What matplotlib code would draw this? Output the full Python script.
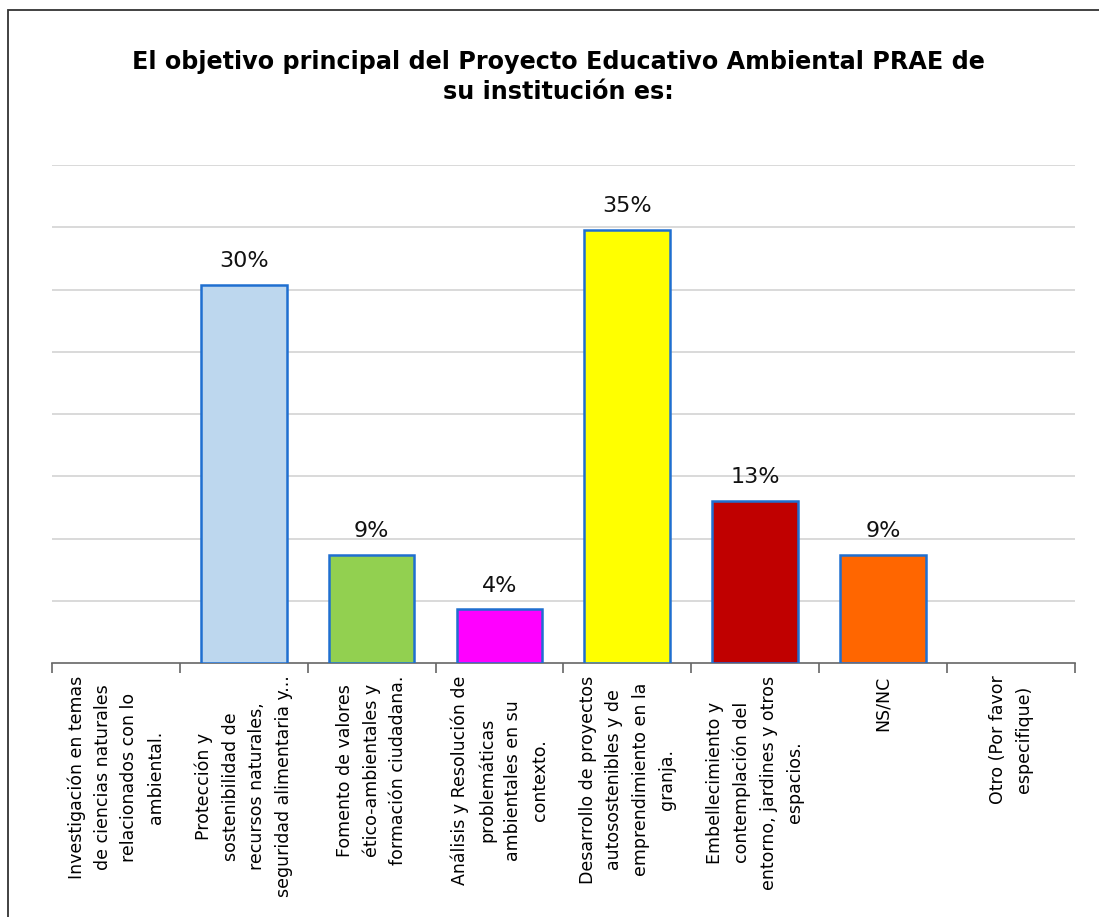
import matplotlib.pyplot as plt
from matplotlib.patches import Rectangle

# survey answers (percent of respondents)
categories = [
    "Investigación en temas\nde ciencias naturales\nrelacionados con lo\nambiental.",
    "Protección y\nsostenibilidad de\nrecursos naturales,\nseguridad alimentaria y...",
    "Fomento de valores\nético-ambientales y\nformación ciudadana.",
    "Análisis y Resolución de\nproblemáticas\nambientales en su\ncontexto.",
    "Desarrollo de proyectos\nautosostenibles y de\nemprendimiento en la\ngranja.",
    "Embellecimiento y\ncontemplación del\nentorno, jardines y otros\nespacios.",
    "NS/NC",
    "Otro (Por favor\nespecifique)",
]
values = [0.0, 30.4, 8.7, 4.3, 34.8, 13.0, 8.7, 0.0]
value_labels = ["", "30%", "9%", "4%", "35%", "13%", "9%", ""]
bar_colors = ["#BDD7EE", "#BDD7EE", "#92D050", "#FF00FF", "#FFFF00", "#C00000", "#FF6600", "#BDD7EE"]

title = "El objetivo principal del Proyecto Educativo Ambiental PRAE de\nsu institución es:"

plt.rcParams["font.family"] = ["DejaVu Sans"]

fig = plt.figure(figsize=(10.99, 9.17), dpi=100)
ax = fig.add_axes([0.0473, 0.277, 0.9307, 0.543])

x = list(range(len(categories)))
for xi, v, c, lbl in zip(x, values, bar_colors, value_labels):
    if v <= 0:
        continue
    ax.bar(xi, v, width=0.67, color=c, edgecolor="#1F6FD0", linewidth=1.8, zorder=3)
    ax.text(xi, v + 1.1, lbl, ha="center", va="bottom", fontsize=16, color="#111111")

ax.set_xlim(-0.5, len(categories) - 0.5)
ax.set_ylim(0, 40)
ax.set_yticks([5, 10, 15, 20, 25, 30, 35, 40])
ax.yaxis.grid(True, color="#D9D9D9", linewidth=1.4, zorder=0)
ax.tick_params(axis="y", left=False, labelleft=False)

# category labels at centers, tick marks at category boundaries
ax.set_xticks(x)
ax.set_xticklabels(categories, rotation=90, ha="center", va="top",
                   multialignment="center", fontsize=12.5, linespacing=1.6)
ax.tick_params(axis="x", which="major", length=0, pad=9)
ax.set_xticks([i - 0.5 for i in range(len(categories) + 1)], minor=True)
ax.tick_params(axis="x", which="minor", length=7, width=1.2, color="#666666", direction="out")

for side in ["left", "right", "top"]:
    ax.spines[side].set_visible(False)
ax.spines["bottom"].set_color("#666666")
ax.spines["bottom"].set_linewidth(1.2)

fig.text(0.508, 0.916, title, ha="center", va="center", fontsize=17.2,
         fontweight="bold", linespacing=1.3)

# outer chart frame
frame = Rectangle((8 / 1099, -0.1), 1.2, 1.1 - 10 / 917, transform=fig.transFigure,
                  fill=False, edgecolor="#333333", linewidth=1.3, clip_on=False)
fig.patches.append(frame)

fig.savefig("out.png", dpi=100)
